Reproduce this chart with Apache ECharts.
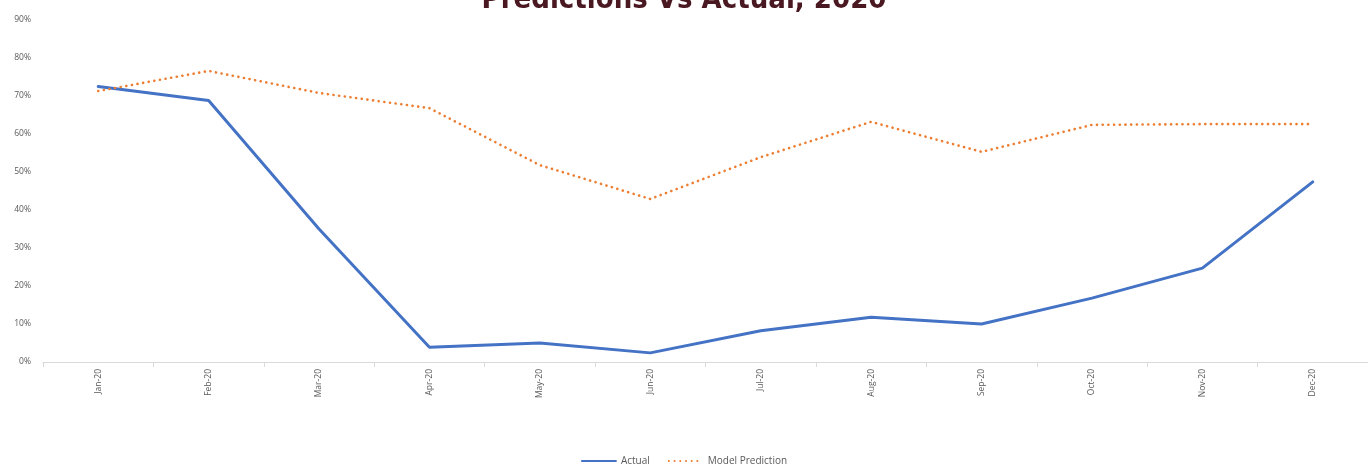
<!DOCTYPE html>
<html>
<head>
<meta charset="utf-8">
<script src="https://cdn.jsdelivr.net/npm/echarts@6/dist/echarts.min.js"></script>
<style>html,body{margin:0;padding:0;background:#fff}#c{width:1368px;height:465px}</style>
</head>
<body>
<div id="c"></div>
<script>
const titleText = 'Predictions Vs Actual, 2020';
const categories = ['Jan-20','Feb-20','Mar-20','Apr-20','May-20','Jun-20','Jul-20','Aug-20','Sep-20','Oct-20','Nov-20','Dec-20'];
const actual = [0.725, 0.688, 0.35, 0.039, 0.05, 0.024, 0.082, 0.118, 0.10, 0.168, 0.247, 0.474];
const prediction = [0.713, 0.766, 0.708, 0.668, 0.518, 0.429, 0.539, 0.632, 0.553, 0.624, 0.626, 0.626];
const yTicks = {min: 0, max: 0.9, interval: 0.1};

const chart = echarts.init(document.getElementById('c'));
chart.setOption({
  animation: false,
  backgroundColor: '#ffffff',
  title: {
    text: titleText,
    left: 'center',
    top: -19,
    textStyle: {fontFamily: '"DejaVu Sans Condensed", "Liberation Sans Narrow", sans-serif', fontWeight: 'bold', fontSize: 29, color: '#4a1820'}
  },
  legend: {
    bottom: -6,
    left: 'center',
    itemWidth: 34,
    itemHeight: 10,
    itemGap: 18,
    itemStyle: {opacity: 0},
    textStyle: {fontFamily: 'Open Sans', fontSize: 10, color: '#595959'},
    data: ['Actual', 'Model Prediction']
  },
  grid: {left: 43, right: -8, top: 20, bottom: 103, containLabel: false},
  xAxis: {
    type: 'category',
    data: categories,
    boundaryGap: true,
    axisLine: {lineStyle: {color: '#d9d9d9', width: 1}},
    axisTick: {show: true, length: 5, lineStyle: {color: '#d9d9d9'}},
    axisLabel: {rotate: 90, fontFamily: 'Open Sans', fontSize: 8.5, color: '#595959', margin: 7}
  },
  yAxis: {
    type: 'value',
    min: yTicks.min,
    max: yTicks.max,
    interval: yTicks.interval,
    axisLine: {show: false},
    axisTick: {show: false},
    splitLine: {show: false},
    axisLabel: {
      fontFamily: 'Open Sans', fontSize: 8.5, color: '#595959', margin: 12,
      formatter: v => Math.round(v * 100) + '%'
    }
  },
  series: [
    {
      name: 'Actual', type: 'line', data: actual, symbol: 'none',
      lineStyle: {color: '#4472c4', width: 3, cap: 'round'},
      itemStyle: {color: '#4472c4'}
    },
    {
      name: 'Model Prediction', type: 'line', data: prediction, symbol: 'none',
      lineStyle: {color: '#ed7d31', width: 2.6, type: [0.1, 5.6], cap: 'round'},
      itemStyle: {color: '#ed7d31'}
    }
  ]
});
</script>
</body>
</html>
